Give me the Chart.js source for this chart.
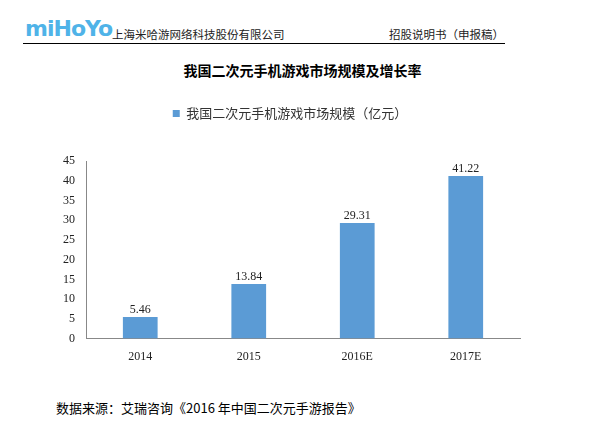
<!DOCTYPE html>
<html><head><meta charset="utf-8">
<script src="https://cdn.jsdelivr.net/npm/chart.js@4"></script>
<style>
body{margin:0;width:605px;height:422px;background:#fff;position:relative;font-family:"Noto Sans CJK SC",serif;overflow:hidden}
.logo{position:absolute;left:25px;top:16px;font:bold 22px "DejaVu Sans",sans-serif;color:#4fb3e8;letter-spacing:-1px}
.co{position:absolute;left:112px;top:26px;font-size:11.5px;color:#222}
.pr{position:absolute;right:101px;top:26px;font-size:11.5px;color:#222}
.rule{position:absolute;left:23px;top:43px;width:482px;height:1px;background:#000}
.title{position:absolute;left:0;width:605px;top:60px;text-align:center;font-size:14px;font-weight:bold;color:#000}
.src{position:absolute;left:56px;top:398px;font-size:13px;color:#000}
#wrap{position:absolute;left:60px;top:97px;width:480px;height:270px}
</style></head><body>
<div class="logo">miHoYo</div>
<div class="co">上海米哈游网络科技股份有限公司</div>
<div class="pr">招股说明书（申报稿）</div>
<div class="rule"></div>
<div class="title">我国二次元手机游戏市场规模及增长率</div>
<div id="wrap"><canvas id="c"></canvas></div>
<div class="src">数据来源：艾瑞咨询《2016 年中国二次元手游报告》</div>
<script>
const years = ["2014", "2015", "2016E", "2017E"];
const marketSize = [5.46, 13.84, 29.31, 41.22];
const seriesName = "我国二次元手机游戏市场规模（亿元）";

const valueLabels = {
    id: "valueLabels",
    afterDatasetsDraw(chart) {
        const ctx = chart.ctx;
        ctx.save();
        ctx.font = "12px 'Liberation Serif'";
        ctx.fillStyle = "#222";
        ctx.textAlign = "center";
        chart.getDatasetMeta(0).data.forEach((bar, i) => {
            ctx.fillText(marketSize[i].toFixed(2), bar.x, bar.y - 7);
        });
        ctx.restore();
    }
};

// extra gap under the legend
const legendGap = {
    id: "legendGap",
    beforeInit(chart) {
        const fit = chart.legend.fit;
        chart.legend.fit = function () {
            fit.bind(chart.legend)();
            this.height += 31;
        };
    }
};

new Chart(document.getElementById("c"), {
    type: "bar",
    data: {
        labels: years,
        datasets: [{ label: seriesName, data: marketSize, backgroundColor: "#5b9bd5", categoryPercentage: 1, barPercentage: 0.32 }]
    },
    options: {
        responsive: true, maintainAspectRatio: false, animation: false,
        layout: { padding: { top: 0, right: 20, bottom: 0, left: 0 } },
        plugins: {
            legend: { labels: { boxWidth: 7, boxHeight: 7, color: "#333", padding: 10, font: { size: 13, family: "Noto Sans CJK SC" } } },
            tooltip: { enabled: false }
        },
        scales: {
            x: { grid: { display: false }, border: { color: "#888" }, ticks: { color: "#222", font: { size: 12, family: "Liberation Serif" } } },
            y: { min: 0, max: 45, ticks: { stepSize: 5, color: "#222", font: { size: 12, family: "Liberation Serif" } }, grid: { display: false }, border: { color: "#888" } }
        }
    },
    plugins: [valueLabels, legendGap]
});
</script>
</body></html>
